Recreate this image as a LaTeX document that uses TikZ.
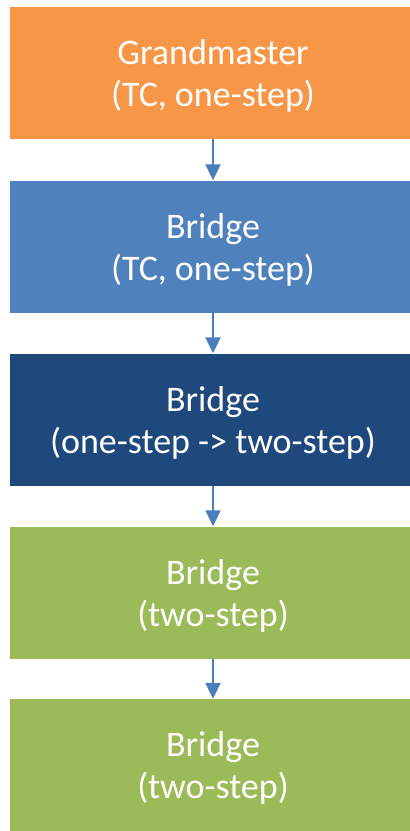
\documentclass[tikz,border=0pt]{standalone}
\usepackage{fontspec}
\setmainfont{Carlito}
\usetikzlibrary{arrows.meta}
\definecolor{gmorange}{HTML}{F79646}
\definecolor{brblue}{HTML}{4F81BD}
\definecolor{brdark}{HTML}{1F497D}
\definecolor{brgreen}{HTML}{9BBB59}
\definecolor{arrblue}{HTML}{4A7EBB}
\begin{document}
\begin{tikzpicture}[x=1pt,y=-1pt,
  boxnode/.style={rectangle, inner sep=0pt, minimum width=406pt, minimum height=132pt},
  boxtext/.style={text=white, align=center, font=\fontsize{36pt}{42pt}\selectfont},
  conn/.style={draw=arrblue, line width=2pt, -{Triangle[width=15pt,length=16pt]}}]
\useasboundingbox (0,0) rectangle (410,831);
\node[boxnode, fill=gmorange] (gm) at (213,73) {};
\node[boxnode, fill=brblue] (b1) at (213,246.5) {};
\node[boxnode, fill=brdark] (b2) at (213,419.5) {};
\node[boxnode, fill=brgreen] (b3) at (213,592.5) {};
\node[boxnode, fill=brgreen] (b4) at (213,765) {};
\node[boxtext] (tgm) at ([yshift=-3pt]gm.center) {Grandmaster\\(TC, one-step)};
\node[boxtext] (tb1) at ([yshift=-3pt]b1.center) {Bridge\\(TC, one-step)};
\node[boxtext] (tb2) at ([yshift=-3pt]b2.center) {Bridge\\(one-step -> two-step)};
\node[boxtext] (tb3) at ([yshift=-3pt]b3.center) {Bridge\\(two-step)};
\node[boxtext] (tb4) at ([yshift=-3pt]b4.center) {Bridge\\(two-step)};
\draw[conn] (gm.south) -- (b1.north);
\draw[conn] (b1.south) -- (b2.north);
\draw[conn] (b2.south) -- (b3.north);
\draw[conn] (b3.south) -- (b4.north);
\end{tikzpicture}
\end{document}
